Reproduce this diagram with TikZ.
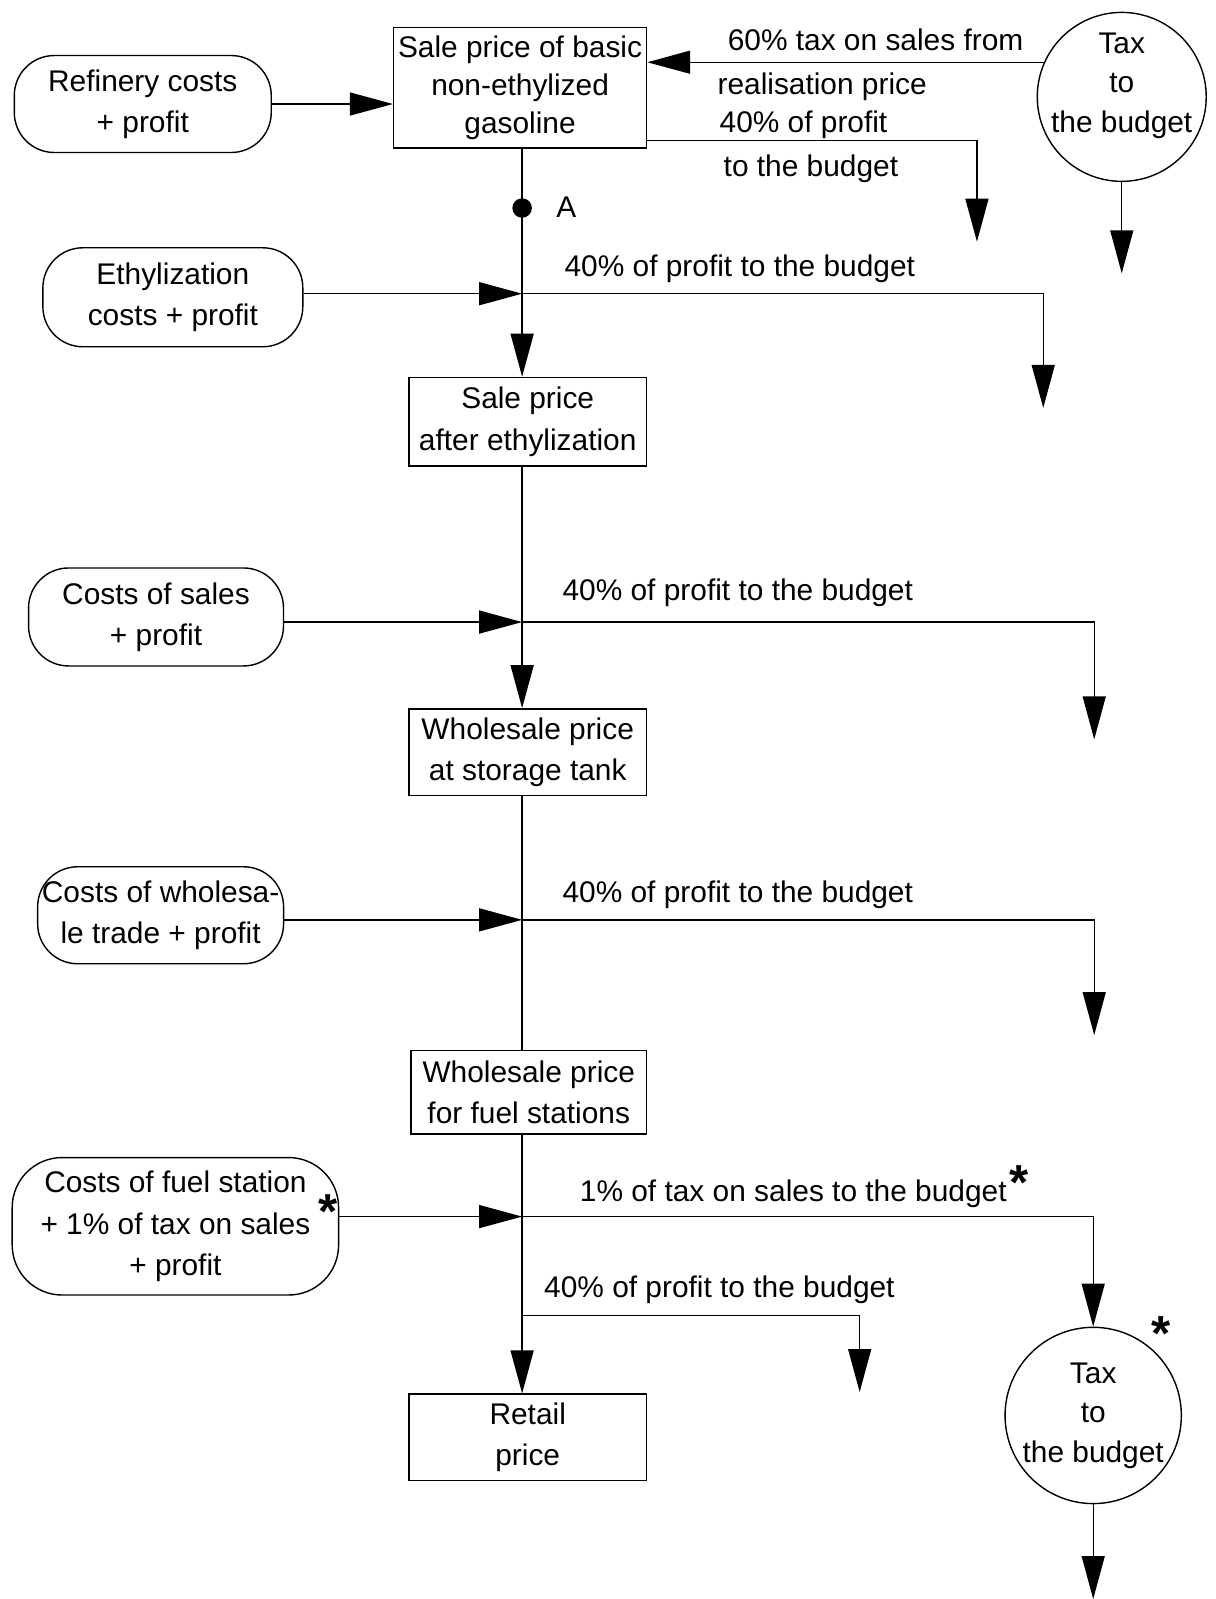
\documentclass[tikz,border=0pt]{standalone}
\usepackage{fontspec}
\setmainfont{Liberation Sans}
\usetikzlibrary{arrows.meta,calc}
\begin{document}
\begin{tikzpicture}[x=0.0204cm,y=-0.0204cm,
  line width=0.8pt,
  every node/.style={font=\fontsize{17}{23.5}\selectfont, inner sep=0pt},
  pbox/.style={draw, rectangle, align=center},
  cbox/.style={draw, rectangle, rounded corners=0.8cm, align=center},
  tcirc/.style={draw, circle, align=center, minimum size=3.38cm, font=\fontsize{17}{22.5}\selectfont},
  ctext/.style={align=center, font=\fontsize{17}{22.5}\selectfont},
  arr/.style={-{Triangle[length=0.86cm,width=0.46cm]}},
  lbl/.style={anchor=base west},
  starmark/.style={font=\fontsize{28}{28}\selectfont\bfseries}
]
\useasboundingbox (0,0) rectangle (1192,1568);

% main boxes
\node[pbox, minimum width=5.06cm, minimum height=2.41cm, font=\fontsize{17}{21.7}\selectfont] (box1) at (510,86) {Sale price of basic\\non-ethylized\\gasoline};
\node[pbox, minimum width=4.75cm, minimum height=1.77cm] (box2) at (517.5,413.5) {Sale price\\after ethylization};
\node[pbox, minimum width=4.75cm, minimum height=1.73cm] (box3) at (517.5,737.5) {Wholesale price\\at storage tank};
\node[pbox, minimum width=4.71cm, minimum height=1.67cm] (box4) at (518.5,1071) {Wholesale price\\for fuel stations};
\node[pbox, minimum width=4.75cm, minimum height=1.73cm] (box5) at (517.5,1409.5) {Retail\\price};

% cost boxes
\node[cbox, minimum width=5.14cm, minimum height=1.94cm] (ref) at (140,102) {Refinery costs\\+ profit};
\node[cbox, minimum width=5.2cm, minimum height=1.98cm] (ethyl) at (169.5,291.5) {Ethylization\\costs + profit};
\node[cbox, minimum width=5.1cm, minimum height=1.96cm] (sales) at (153,605) {Costs of sales\\+ profit};
\node[cbox, minimum width=4.92cm, minimum height=1.94cm] (whole) at (157.5,897.5) {Costs of wholesa-\\le trade + profit};
\node[cbox, minimum width=6.53cm, minimum height=2.75cm, rounded corners=1.0cm] (fuel) at (172,1202.5) {Costs of fuel station\\+ 1\% of tax on sales\\+ profit};

% circles
\node[tcirc] (circ1) at (1100,95) {};
\node[ctext] (circ1t) at (1100,84) {Tax\\to\\the budget};
\node[tcirc] (circ2) at (1072,1388) {Tax\\to\\the budget};

% junctions
\node[circle, fill, minimum size=0.39cm] (dotA) at (512,204) {};
\coordinate (j1) at (512,288);
\coordinate (j2) at (512,610);
\coordinate (j3) at (512,902);
\coordinate (j4) at (512,1193);
\coordinate (j5) at (512,1290);
\coordinate (e0) at (958,237);
\coordinate (e1) at (1023,400);
\coordinate (e2) at (1073,725);
\coordinate (e3) at (1073,1015);
\coordinate (e5) at (843,1365);
\coordinate (t1) at (1100,268);
\coordinate (t2) at (1072,1568);

% main vertical
\draw (box1.south -| dotA) -- (j1);
\draw[arr] (j1) -- (box2.north -| j1);
\draw (box2.south -| j1) -- (j2);
\draw[arr] (j2) -- (box3.north -| j2);
\draw (box3.south -| j2) -- (box4.north -| j2);
\draw (box4.south -| j2) -- (j4);
\draw[arr] (j4) -- (box5.north -| j4);

% inputs
\draw[arr] (ref.east) -- (ref.east -| box1.west);
\draw[arr] (ethyl.east |- j1) -- (j1);
\draw[arr] (sales.east |- j2) -- (j2);
\draw[arr] (whole.east |- j3) -- (j3);
\draw[arr] (fuel.east |- j4) -- (j4);

% outputs
\draw[arr] (circ1.156.6) -- (circ1.156.6 -| box1.east);
\draw[arr] ($(box1.south east)+(0,-8)$) -| (e0);
\draw[arr] (circ1.south) -- (t1);
\draw[arr] (j1) -| (e1);
\draw[arr] (j2) -| (e2);
\draw[arr] (j3) -| (e3);
\draw[arr] (j4) -| (circ2.north);
\draw[arr] (j5) -| (e5);
\draw[arr] (circ2.south) -- (t2);

% labels
\node[lbl] (l1) at (713,50) {60\% tax on sales from};
\node[lbl] (l2) at (703,93) {realisation price};
\node[lbl] (l3) at (705,130) {40\% of profit};
\node[lbl] (l4) at (709,173) {to the budget};
\node[lbl] (lA) at (545,213) {A};
\node[lbl] (l5) at (553,271) {40\% of profit to the budget};
\node[lbl] (l6) at (551,589) {40\% of profit to the budget};
\node[lbl] (l7) at (551,885) {40\% of profit to the budget};
\node[lbl] (l8) at (568,1178) {1\% of tax on sales to the budget};
\node[lbl] (l9) at (533,1272) {40\% of profit to the budget};

% stars
\node[starmark] (s1) at (999,1160) {*};
\node[starmark] (s2) at (322,1188) {*};
\node[starmark] (s3) at (1139,1308) {*};
\end{tikzpicture}
\end{document}
